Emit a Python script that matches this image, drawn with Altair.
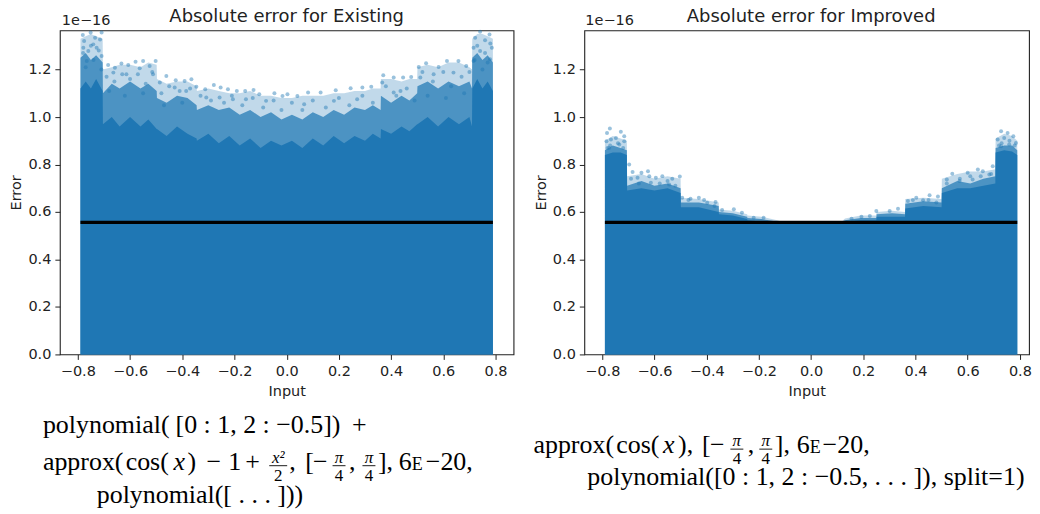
import altair as alt
import pandas as pd

BLUE = "#1f77b4"
SERIF = "Liberation Serif"
TOP = 30.7

# ---- Existing: envelope of the cloud
ex_x = [-0.79,-0.77,-0.75,-0.73,-0.705,
        -0.704,-0.67,-0.64,-0.60,-0.56,-0.53,-0.498,
        -0.497,-0.46,-0.42,-0.38,-0.345,
        -0.344,-0.30,-0.26,-0.22,-0.18,-0.14,-0.10,-0.06,-0.02,
        0.02,0.06,0.10,0.14,0.18,0.22,0.26,0.30,0.33,0.36,
        0.361,0.40,0.44,0.47,0.50,
        0.501,0.54,0.58,0.62,0.66,0.70,0.71,
        0.711,0.73,0.75,0.77,0.79]
ex_fringe = [1.33,1.34,1.35,1.34,1.33,
             1.20,1.21,1.22,1.22,1.21,1.23,1.22,
             1.16,1.14,1.15,1.15,1.13,
             1.11,1.12,1.11,1.10,1.10,1.11,1.09,1.09,1.08,
             1.08,1.09,1.09,1.09,1.10,1.10,1.11,1.11,1.12,1.12,
             1.16,1.16,1.15,1.16,1.16,
             1.21,1.22,1.21,1.23,1.23,1.21,1.20,
             1.33,1.35,1.35,1.34,1.33]
ex_mid = [1.25,1.27,1.24,1.26,1.23,
          1.10,1.14,1.12,1.15,1.12,1.14,1.11,
          1.08,1.06,1.09,1.08,1.05,
          1.03,1.05,1.03,1.04,1.01,1.03,1.00,1.02,0.99,
          1.01,0.99,1.02,1.00,1.03,1.01,1.04,1.03,1.05,1.03,
          1.09,1.06,1.09,1.07,1.10,
          1.13,1.15,1.12,1.15,1.13,1.15,1.12,
          1.25,1.27,1.24,1.26,1.23]
ex_solid = [1.12,1.15,1.12,1.16,1.11,
            0.97,1.00,0.96,1.00,0.96,0.99,0.95,
            0.95,0.92,0.96,0.93,0.91,
            0.90,0.93,0.89,0.92,0.88,0.91,0.87,0.90,0.88,
            0.90,0.87,0.91,0.88,0.92,0.89,0.92,0.90,0.93,0.91,
            0.95,0.93,0.96,0.94,0.97,
            0.97,1.00,0.96,1.00,0.97,1.00,0.96,
            1.12,1.16,1.12,1.15,1.11]
# Existing: individual outlying points
ex_px = [-0.781,-0.751,-0.709,-0.776,-0.734,-0.715,-0.741,-0.779,-0.760,-0.728,-0.709,-0.766,-0.684,-0.658,-0.633,-0.607,-0.579,-0.550,-0.502,-0.525,-0.563,-0.664,-0.614,-0.512,-0.461,-0.425,-0.365,-0.391,-0.346,-0.312,-0.279,-0.253,-0.225,-0.191,-0.159,-0.127,-0.105,-0.047,-0.016,-0.486,-0.429,-0.385,-0.308,-0.257,-0.206,-0.156,-0.079,
         0.003,0.041,0.082,0.130,0.188,0.245,0.290,0.324,0.370,0.410,0.446,0.477,0.366,0.410,0.506,0.534,0.582,0.614,0.658,0.688,0.563,0.639,0.512,0.722,0.741,0.777,0.760,0.716,0.786,0.741,0.779,0.716,0.067,0.181,0.270,0.436,
         -0.78,-0.75,-0.72,-0.77,-0.74,-0.71,-0.69,-0.66,-0.63,-0.60,-0.57,-0.54,-0.515,-0.68,-0.62,-0.55,-0.48,-0.45,-0.41,-0.37,-0.47,-0.40,-0.33,-0.29,-0.24,-0.21,-0.17,-0.13,-0.09,-0.05,-0.02,
         0.02,0.06,0.10,0.15,0.20,0.24,0.29,0.33,0.38,0.42,0.46,0.49,0.52,0.56,0.60,0.63,0.67,0.70,0.54,0.61,0.68,0.73,0.76,0.78,0.72,0.75,0.77]
ex_py = [1.345,1.356,1.356,1.320,1.334,1.327,1.306,1.292,1.278,1.292,1.257,1.236,1.219,1.208,1.225,1.219,1.233,1.236,1.236,1.215,1.205,1.187,1.180,1.180,1.173,1.155,1.159,1.152,1.127,1.117,1.135,1.124,1.117,1.110,1.110,1.114,1.096,1.100,1.089,1.145,1.124,1.110,1.082,1.082,1.075,1.075,1.068,
         1.096,1.089,1.103,1.103,1.113,1.121,1.124,1.127,1.176,1.166,1.166,1.169,1.145,1.103,1.211,1.226,1.211,1.236,1.236,1.215,1.180,1.187,1.166,1.334,1.359,1.348,1.323,1.292,1.292,1.278,1.243,1.236,1.054,1.068,1.075,1.110,
         1.27,1.30,1.28,1.21,1.24,1.20,1.17,1.15,1.18,1.16,1.18,1.14,1.19,1.11,1.09,1.10,1.10,1.13,1.11,1.12,1.05,1.06,1.09,1.07,1.06,1.09,1.05,1.08,1.04,1.07,1.03,
         1.06,1.03,1.07,1.04,1.08,1.05,1.09,1.06,1.13,1.09,1.12,1.07,1.19,1.15,1.19,1.13,1.17,1.19,1.09,1.08,1.10,1.30,1.27,1.31,1.24,1.20,1.23]

# ---- Improved: envelope of the cloud
im_x = [-0.79,-0.76,-0.73,-0.706, -0.705,-0.65,-0.60,-0.55,-0.50, -0.499,-0.43,-0.354, -0.353,-0.30,-0.245, -0.244,-0.19,-0.13,
        -0.12,0,0.12, 0.13,0.19,0.25, 0.251,0.31,0.36, 0.361,0.43,0.50, 0.501,0.56,0.61,0.66,0.706, 0.707,0.74,0.77,0.79]
im_fringe = [.90,.92,.91,.90, .75,.76,.74,.75,.74, .66,.655,.64, .61,.605,.59, .585,.58,.565,
             .562,.56,.562, .572,.585,.585, .60,.605,.60, .655,.66,.655, .74,.76,.77,.77,.78, .91,.93,.92,.90]
im_mid = [.86,.88,.87,.86, .71,.73,.71,.72,.70, .64,.64,.625, .60,.595,.58, .575,.57,.56,
          .56,.56,.56, .565,.575,.575, .59,.595,.59, .635,.645,.64, .70,.73,.72,.74,.75, .87,.88,.88,.86]
im_solid = [.84,.85,.85,.84, .69,.70,.69,.70,.68, .62,.62,.60, .59,.585,.57, .565,.56,.56,
            .56,.56,.56, .56,.565,.565, .58,.58,.58, .615,.625,.62, .68,.70,.70,.71,.72, .85,.86,.855,.84]
# Improved: individual outlying points
im_px = [-0.771,-0.782,-0.729,-0.716,-0.784,-0.767,-0.748,-0.716,-0.735,-0.774,-0.697,-0.684,-0.650,-0.625,-0.595,-0.570,-0.532,-0.503,-0.665,-0.614,-0.544,-0.494,-0.462,-0.430,-0.398,-0.366,-0.341,-0.296,-0.265,-0.220,-0.182,
         0.728,0.753,0.775,0.785,0.715,0.740,0.759,0.728,0.541,0.520,0.600,0.639,0.658,0.696,0.683,0.569,0.619,0.454,0.486,0.403,0.371,0.429,0.333,0.301,0.250,0.225,0.193,0.155,
         -0.77,-0.74,-0.72,-0.78,-0.69,-0.66,-0.62,-0.58,-0.55,-0.52,-0.47,-0.41,-0.37,0.39,0.45,0.48,0.52,0.57,0.61,0.65,0.69,0.73,0.76,0.78,0.72]
im_py = [0.952,0.933,0.938,0.919,0.898,0.905,0.912,0.898,0.884,0.870,0.800,0.768,0.765,0.772,0.744,0.751,0.740,0.749,0.744,0.723,0.716,0.660,0.656,0.660,0.639,0.642,0.608,0.611,0.597,0.576,0.576,
         0.940,0.933,0.919,0.891,0.905,0.912,0.884,0.877,0.761,0.737,0.765,0.779,0.772,0.793,0.758,0.730,0.737,0.670,0.665,0.660,0.646,0.649,0.614,0.604,0.604,0.583,0.580,0.572,
         .88,.89,.87,.87,.74,.72,.75,.72,.73,.71,.65,.65,.625,.65,.65,.64,.72,.74,.75,.75,.76,.89,.90,.88,.88]

line_x = [-0.79, 0.79]
line_y = [0.556, 0.556]

XT = [-0.8,-0.6,-0.4,-0.2,0.0,0.2,0.4,0.6,0.8]
YT = [0.0,0.2,0.4,0.6,0.8,1.0,1.2]


def piece(text, x, y, ox, size=26, style="normal", align="left", font=SERIF, color="black"):
    return alt.Chart(pd.DataFrame({"t": [text]})).mark_text(
        font=font, fontSize=size, fontStyle=style, align=align, baseline="alphabetic",
        color=color).encode(text="t:N", x=alt.value(x - ox), y=alt.value(y - TOP))


def bar(x1, x2, y, ox):
    return alt.Chart(pd.DataFrame({"a": [0]})).mark_rule(color="black", strokeWidth=0.9).encode(
        x=alt.value(x1 - ox), x2=alt.value(x2 - ox), y=alt.value(y - TOP))


def frac(num, den, cx, ox, ybar, half=6.5):
    return [
        piece(num, cx, ybar - 3, ox, size=17, style="italic", align="center"),
        bar(cx - half, cx + half, ybar, ox),
        piece(den, cx, ybar + 15, ox, size=17, align="center"),
    ]


def panel(title, xs, fringe, mid, solid, px, py, texts, w, xmax, dx):
    xsc = alt.Scale(domain=[-0.869, xmax], nice=False, zero=False)
    ysc = alt.Scale(domain=[0, 1.365], nice=False)
    df = pd.DataFrame({"x": xs, "f": fringe, "m": mid, "s": solid, "z": [0.0] * len(xs)})
    xax = alt.Axis(values=XT, title="Input", labelExpr="replace(format(datum.value,'.1f'),'-','\u2212')",
                   grid=False, domain=False, tickSize=5, labelPadding=5, titlePadding=7)
    yax = alt.Axis(values=YT, format=".1f", title="Error", grid=False, domain=False, tickSize=5,
                   labelPadding=4, titlePadding=4)
    base = alt.Chart(df)
    a1 = base.mark_area(color=BLUE, opacity=0.28).encode(
        x=alt.X("x:Q", scale=xsc, axis=xax), y=alt.Y("f:Q", scale=ysc, axis=yax), y2="z:Q")
    a2 = base.mark_area(color=BLUE, opacity=0.72).encode(x=alt.X("x:Q", scale=xsc), y=alt.Y("m:Q", scale=ysc), y2="z:Q")
    a3 = base.mark_area(color=BLUE, opacity=1).encode(x=alt.X("x:Q", scale=xsc), y=alt.Y("s:Q", scale=ysc), y2="z:Q")
    pts = alt.Chart(pd.DataFrame({"x": px, "y": py})).mark_circle(color=BLUE, opacity=0.45, size=16).encode(
        x=alt.X("x:Q", scale=xsc), y=alt.Y("y:Q", scale=ysc))
    ln = alt.Chart(pd.DataFrame({"x": line_x, "y": line_y})).mark_line(color="black", strokeWidth=3.4).encode(
        x=alt.X("x:Q", scale=xsc), y=alt.Y("y:Q", scale=ysc))
    return alt.layer(a1, a2, a3, pts, ln, *texts).properties(
        width=w, height=325,
        title=alt.TitleParams(title, font="DejaVu Sans", fontSize=18, fontWeight="normal", anchor="middle",
                              offset=-13, dx=dx, color="#222"))


L = 60
Y2 = 472
left_texts = [
    piece("1e\u221216", 62, 25, L, size=14.5, font="DejaVu Sans", color="#222"),
    piece("polynomial(", 43, 435, L),
    piece("[0 : 1, 2 : \u22120.5])", 176, 435, L),
    piece("+", 353, 435, L),
    piece("approx(", 43, Y2, L),
    piece("cos(", 126, Y2, L),
    piece("x", 174, Y2, L, style="italic"),
    piece(")", 188, Y2, L),
    piece("\u2212", 207, Y2, L),
    piece("1", 229, Y2, L),
    piece("+", 246, Y2, L),
    *frac("x\u00b2", "2", 279, L, 467.3, half=9),
    piece(",", 290, Y2, L),
    piece("[", 306, Y2, L),
    piece("\u2212", 314, Y2, L),
    *frac("\u03c0", "4", 340, L, 467.3),
    piece(",", 350, Y2, L),
    *frac("\u03c0", "4", 370, L, 467.3),
    piece("],", 379, Y2, L),
    piece("6", 400, Y2, L),
    piece("E", 413, Y2, L, size=18),
    piece("\u221220,", 427, Y2, L),
    piece("polynomial([ . . . ]))", 97, 505, L),
]
R = 584
Y1 = 455
right_texts = [
    piece("1e\u221216", 585, 25, R, size=14.5, font="DejaVu Sans", color="#222"),
    piece("approx(", 533, Y1, R),
    piece("cos(", 616, Y1, R),
    piece("x", 663, Y1, R, style="italic"),
    piece("),", 678, Y1, R),
    piece("[", 702, Y1, R),
    piece("\u2212", 710, Y1, R),
    *frac("\u03c0", "4", 737, R, 450.7),
    piece(",", 748, Y1, R),
    *frac("\u03c0", "4", 766, R, 450.7),
    piece("],", 775, Y1, R),
    piece("6", 797, Y1, R),
    piece("E", 810, Y1, R, size=18),
    piece("\u221220,", 823, Y1, R),
    piece("polynomial([0 : 1, 2 : \u22120.5, . . . ]), split=1)", 587, 487, R),
]

c1 = panel("Absolute error for Existing", ex_x, ex_fringe, ex_mid, ex_solid, ex_px, ex_py, left_texts, 455, 0.869, 0)
c2 = panel("Absolute error for Improved", im_x, im_fringe, im_mid, im_solid, im_px, im_py, right_texts, 446, 0.835, 4.5)

chart = alt.hconcat(c1, c2, spacing=18).properties(
    padding={"left": 0, "top": -2.3, "right": 0, "bottom": 0}
).configure_view(
    stroke="#222", strokeWidth=1.1
).configure_axis(
    labelFont="DejaVu Sans", labelFontSize=14.5, titleFont="DejaVu Sans", titleFontSize=14.5,
    titleFontWeight="normal", labelColor="#222", titleColor="#222", tickColor="#222", labelOverlap=False,
).configure_concat(spacing=18)

chart.save("out.html", embed_options={"renderer": "svg", "actions": False})
